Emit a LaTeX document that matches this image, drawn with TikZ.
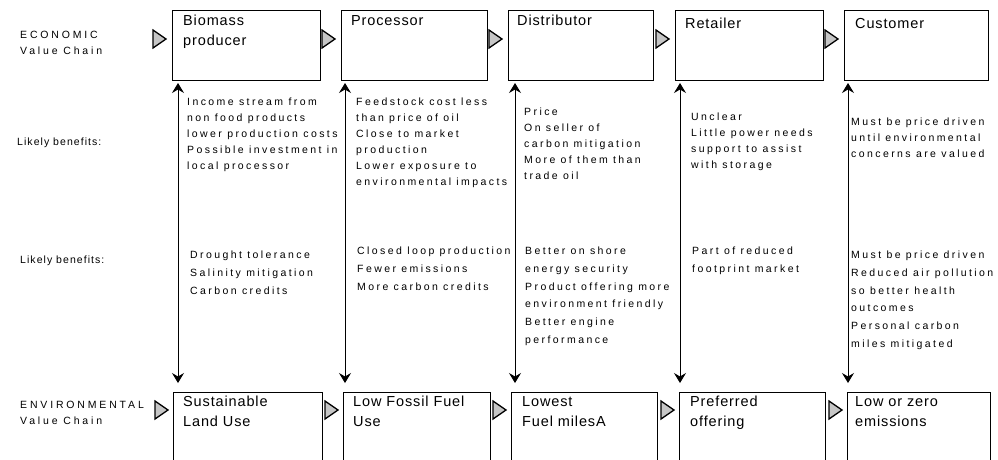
\documentclass[tikz,border=0pt]{standalone}
\usepackage{fontspec}
\setmainfont{Liberation Sans}
\newfontfamily\smallfnt[LetterSpace=23]{Liberation Sans}
\newfontfamily\hdrfnt[LetterSpace=27]{Liberation Sans}
\newfontfamily\likfnt[LetterSpace=10]{Liberation Sans}
\newfontfamily\boxfnt[LetterSpace=6]{Liberation Sans}
\usetikzlibrary{arrows.meta}
\begin{document}
\begin{tikzpicture}[x=1pt,y=-1pt,
  box/.style={draw, line width=1.3pt, inner sep=0pt, anchor=north west},
  lbl/.style={anchor=north west, inner sep=0pt, align=left, font=\boxfnt\fontsize{14.5}{20}\selectfont},
  hdr/.style={anchor=north west, inner sep=0pt, align=left, font=\hdrfnt\fontsize{10.5}{15.5}\selectfont},
  lik/.style={anchor=north west, inner sep=0pt, align=left, font=\likfnt\fontsize{10.5}{15.5}\selectfont},
  colA/.style={anchor=north west, inner sep=0pt, align=left, font=\smallfnt\fontsize{10.5}{16}\selectfont},
  colB/.style={anchor=north west, inner sep=0pt, align=left, font=\smallfnt\fontsize{10.5}{17.7}\selectfont},
  tri/.style={draw, fill=gray!45, line width=1.3pt, line join=miter},
  link/.style={{Stealth[length=10pt,width=12pt,inset=3.5pt]}-{Stealth[length=10pt,width=12pt,inset=3.5pt]}, line width=0.9pt}]
\useasboundingbox (0,0) rectangle (998,459);
\clip (0,0) rectangle (998,459);
\fill[white] (0,0) rectangle (998,459);

% left labels
\node[hdr] (econ) at (20,31) {ECONOMIC\\Value Chain};
\node[lik] (lb1) at (17,138) {Likely benefits:};
\node[lik] (lb2) at (20,256) {Likely benefits:};
\node[hdr] (env) at (20,401) {ENVIRONMENTAL\\Value Chain};

% top boxes
\node[box, minimum width=148pt, minimum height=70pt] (t1) at (172,10) {};
\node[box, minimum width=146pt, minimum height=70pt] (t2) at (341,10) {};
\node[box, minimum width=145pt, minimum height=70pt] (t3) at (508,10) {};
\node[box, minimum width=148pt, minimum height=70pt] (t4) at (675,10) {};
\node[box, minimum width=144pt, minimum height=70pt] (t5) at (844,10) {};
\node[lbl] (t1t) at (183,15) {Biomass\\producer};
\node[lbl] (t2t) at (351,15) {Processor};
\node[lbl] (t3t) at (517,15) {Distributor};
\node[lbl] (t4t) at (685,18) {Retailer};
\node[lbl] (t5t) at (855,18) {Customer};

% bottom boxes
\node[box, minimum width=149pt, minimum height=80pt] (e1) at (173,392) {};
\node[box, minimum width=147pt, minimum height=80pt] (e2) at (343,392) {};
\node[box, minimum width=146pt, minimum height=80pt] (e3) at (511,392) {};
\node[box, minimum width=146pt, minimum height=80pt] (e4) at (679,392) {};
\node[box, minimum width=143pt, minimum height=80pt] (e5) at (847,392) {};
\node[lbl] (e1t) at (183,396) {Sustainable\\Land Use};
\node[lbl] (e2t) at (353,396) {Low Fossil Fuel\\Use};
\node[lbl] (e3t) at (522,396) {Lowest\\Fuel milesA};
\node[lbl] (e4t) at (690,396) {Preferred\\offering};
\node[lbl] (e5t) at (855,396) {Low or zero\\emissions};

% triangles
\foreach \L in {172,341,508,675,844}{
  \draw[tri] (\L-19,30) -- (\L-6,39) -- (\L-19,48) -- cycle;
}
\foreach \L in {173,343,511,679,847}{
  \draw[tri] (\L-18,401) -- (\L-5,410) -- (\L-18,419) -- cycle;
}

% vertical links
\foreach \i/\x in {1/178,2/345,3/515,4/680,5/848}{
  \coordinate (u\i) at (\x,83);
  \coordinate (d\i) at (\x,383);
}
\foreach \i in {1,...,5}{ \draw[link] (u\i) -- (d\i); }

% economic benefits
\node[colA] (a1) at (187,98) {Income stream from\\non food products\\lower production costs\\Possible investment in\\local processor};
\node[colA] (a2) at (356,98) {Feedstock cost less\\than price of oil\\Close to market\\production\\Lower exposure to\\environmental impacts};
\node[colA] (a3) at (524,108) {Price\\On seller of\\carbon mitigation\\More of them than\\trade oil};
\node[colA] (a4) at (691,113) {Unclear\\Little power needs\\support to assist\\with storage};
\node[colA] (a5) at (851,118) {Must be price driven\\until environmental\\concerns are valued};

% environmental benefits
\node[colB] (b1) at (190,251) {Drought tolerance\\Salinity mitigation\\Carbon credits};
\node[colB] (b2) at (357,247) {Closed loop production\\Fewer emissions\\More carbon credits};
\node[colB] (b3) at (525,247) {Better on shore\\energy security\\Product offering more\\environment friendly\\Better engine\\performance};
\node[colB] (b4) at (692,247) {Part of reduced\\footprint market};
\node[colB] (b5) at (851,251) {Must be price driven\\Reduced air pollution\\so better health\\outcomes\\Personal carbon\\miles mitigated};
\end{tikzpicture}
\end{document}
